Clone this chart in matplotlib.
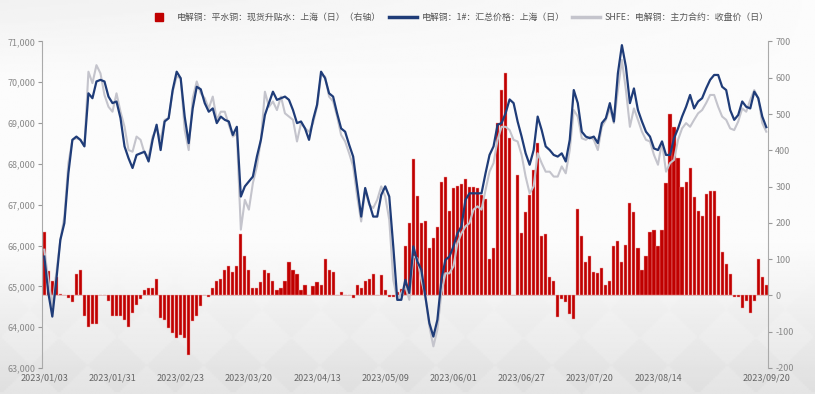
import numpy as np
import matplotlib
matplotlib.use('Agg')
import matplotlib.pyplot as plt
from matplotlib.lines import Line2D
from matplotlib.ticker import FuncFormatter

plt.rcParams['font.family'] = ['Noto Sans CJK SC', 'DejaVu Sans']
plt.rcParams['axes.unicode_minus'] = False

tick_labels = ['2023/01/03', '2023/01/31', '2023/02/23', '2023/03/20', '2023/04/13',
               '2023/05/09', '2023/06/01', '2023/06/27', '2023/07/20', '2023/08/14',
               '2023/09/20']
tick_pos = [0, 17, 34, 51, 68, 85, 102, 119, 136, 153, 180]

series_names = ['电解铜：平水铜：现货升贴水：上海（日）（右轴）',
                '电解铜：1#：汇总价格：上海（日）',
                'SHFE：电解铜：主力合约：收盘价（日）']

# spot premium/discount, right axis
spread = [
    176, 66, 40, 50, 5, 0, -7, -19, 60, 71,
    -58, -87, -78, -78, 0, 0, -14, -58, -58, -58,
    -67, -87, -49, -26, -10, 14, 20, 20, 46, -62,
    -67, -90, -104, -117, -108, -117, -163, -70, -58, -28,
    0, -3, 20, 41, 45, 71, 80, 64, 80, 170,
    109, 71, 20, 20, 36, 69, 61, 39, 16, 20,
    41, 91, 71, 60, 16, 29, 0, 25, 36, 29,
    100, 71, 64, 0, 9, 0, 0, -7, 29, 20,
    41, 45, 60, 0, 56, 14, -5, -3, 10, 18,
    135, 201, 375, 274, 201, 204, 130, 158, 190, 314,
    326, 234, 295, 303, 306, 320, 300, 300, 295, 277,
    265, 100, 130, 474, 566, 614, 435, 0, 332, 171,
    231, 277, 346, 419, 164, 170, 50, 41, -60, -10,
    -19, -50, -64, 238, 164, 91, 109, 64, 61, 75,
    29, 39, 135, 149, 91, 139, 256, 231, 130, 71,
    109, 174, 179, 135, 179, 311, 500, 463, 380, 300,
    314, 350, 271, 234, 219, 280, 289, 289, 219, 121,
    87, 60, -3, -3, -35, -14, -49, -14, 101, 50,
    29]

# 1# spot price Shanghai
spot = [
    65730, 64840, 64260, 65160, 66140, 66550, 67770, 68590, 68670, 68590,
    68430, 69730, 69610, 70020, 70060, 70020, 69650, 69490, 69530, 69120,
    68430, 68140, 67900, 68220, 68260, 68300, 68060, 68590, 68960, 68340,
    69040, 69120, 69810, 70260, 70100, 69160, 68510, 69360, 69890, 69830,
    69490, 69280, 69360, 69000, 69160, 69080, 69040, 68710, 68910, 67200,
    67450, 67570, 67690, 68180, 68590, 69200, 69490, 69770, 69570, 69610,
    69650, 69570, 69320, 69000, 69040, 68870, 68590, 69080, 69450, 70260,
    70100, 69730, 69650, 69240, 68870, 68790, 68470, 68180, 67450, 66710,
    67410, 67040, 66710, 66710, 67240, 67450, 67200, 65980, 64670, 64670,
    65160, 64840, 65980, 65610, 65410, 64750, 64100, 63770, 64180, 65160,
    65650, 65730, 65980, 66300, 66470, 67120, 67280, 67280, 67280, 67280,
    67770, 68220, 68430, 68960, 69000, 69240, 69580, 69490, 69040, 68670,
    68260, 67980, 68340, 69160, 68830, 68430, 68340, 68220, 68180, 68260,
    68060, 68590, 69810, 69490, 68790, 68670, 68630, 68670, 68510, 69000,
    69120, 69490, 69040, 70220, 70910, 70380, 69490, 69850, 69320, 69040,
    68790, 68670, 68380, 68340, 68550, 68220, 68220, 68630, 68870, 69160,
    69400, 69690, 69360, 69530, 69610, 69850, 70060, 70180, 70180, 69890,
    69810, 69320, 69080, 69200, 69530, 69400, 69360, 69770, 69610, 69160,
    68900]

# SHFE main contract close
shfe = [
    65900, 65160, 64510, 65320, 66140, 66710, 68020, 68590, 68630, 68590,
    68440, 70260, 69980, 70420, 70220, 69690, 69400, 69280, 69730, 69280,
    68910, 68340, 68300, 68670, 68590, 68260, 68180, 68670, 68870, 68590,
    69080, 69120, 69770, 70140, 70100, 68830, 68340, 69610, 70020, 69730,
    69610, 69360, 69650, 69080, 69280, 69280, 68960, 68670, 68750, 66390,
    67120, 66880, 67530, 67940, 68590, 69770, 69400, 69530, 69320, 69650,
    69240, 69160, 69080, 68550, 69000, 68870, 68790, 69000, 69400, 70180,
    70140, 69650, 69530, 69160, 68710, 68550, 68260, 67940, 67200, 66590,
    67360, 67000, 66920, 67120, 67450, 67200, 66630, 65160, 64670, 64840,
    65000, 64670, 65730, 65690, 65160, 64750, 64020, 63530, 63940, 64840,
    65320, 65320, 65490, 66060, 66300, 66470, 66550, 66880, 66960, 66880,
    67360, 67810, 68020, 68590, 68910, 68910, 68830, 68590, 68550, 68220,
    67690, 67280, 67450, 68260, 68020, 67810, 67810, 67690, 67690, 67940,
    67770, 68340, 69320, 69160, 68630, 68590, 68670, 68590, 68340, 68910,
    69080, 69360, 69000, 69810, 70550, 69810, 68910, 69360, 69080, 68790,
    68590, 68550, 68220, 67980, 68550, 67810, 68020, 68100, 68590, 68870,
    69000, 68910, 69080, 69240, 69320, 69490, 69690, 69690, 69400, 69160,
    69080, 68870, 68830, 69040, 69360, 69280, 69570, 69810, 69610, 69000,
    68790]

x = np.arange(len(spot))

fig = plt.figure(figsize=(8.15, 3.94), dpi=100)

# light grey background, darker toward the bottom
bg = fig.add_axes([0, 0, 1, 1], zorder=-10)
yy, xx = np.mgrid[0:1:200j, 0:1:400j]
shade = 0.985 - 0.09 * np.clip((yy - 0.62) / 0.38, 0, 1) \
    - 0.04 * np.clip((0.2 - yy) / 0.2, 0, 1) * (1 - xx)
tiles = ((np.floor(xx * 14 + yy * 7) + np.floor(xx * 14 - yy * 7)) % 2)
shade = shade - 0.02 * tiles * np.clip((yy - 0.65) / 0.35, 0, 1)
bg.imshow(shade, cmap='gray', vmin=0, vmax=1, extent=[0, 1, 0, 1], aspect='auto')
bg.axis('off')

ax = fig.add_axes([0.0519, 0.066, 0.8908, 0.8287])
ax2 = ax.twinx()
ax.set_zorder(2)
ax2.set_zorder(1)
ax.patch.set_visible(False)
ax2.patch.set_visible(False)

red = '#C00000'
blue = '#1F3C78'
grey = '#C4C4CC'

ax2.axhline(0, color='#d8b8b8', lw=0.6, zorder=0)
ax2.bar(x, spread, width=0.78, color=red, edgecolor='#F0A0A0', linewidth=0.3)
ax.plot(x, shfe, color=grey, lw=1.5)
ax.plot(x, spot, color=blue, lw=1.6)

ax.set_xlim(-0.5, 180.5)
ax.set_ylim(63000, 71000)
ax.set_yticks(np.arange(63000, 71001, 1000))
ax.yaxis.set_major_formatter(FuncFormatter(lambda v, p: f'{v:,.0f}'))
ax2.set_ylim(-200, 700)
ax2.set_yticks(np.arange(-200, 701, 100))

ax.set_xticks(tick_pos)
ax.set_xticklabels(tick_labels)
ax.tick_params(axis='x', length=0, labelsize=6.5, labelcolor='#666666', pad=4)
ax.tick_params(axis='y', length=3, width=0.8, color='#999999',
               labelsize=6.5, labelcolor='#888888', pad=2)
ax2.tick_params(axis='y', length=3, width=0.8, color='#999999',
                labelsize=6.5, labelcolor='#888888', pad=2)

for a in (ax, ax2):
    for s in ('top', 'bottom'):
        a.spines[s].set_visible(False)
ax.spines['right'].set_visible(False)
ax2.spines['left'].set_visible(False)
ax.spines['left'].set_color('#aaaaaa')
ax2.spines['right'].set_color('#aaaaaa')

handles = [Line2D([0], [0], marker='s', color=red, linestyle='none', markersize=5.5),
           Line2D([0], [0], color=blue, lw=2.5),
           Line2D([0], [0], color=grey, lw=2.5)]
fig.legend(handles, series_names, loc='center', bbox_to_anchor=(0.56, 0.955),
           ncol=3, frameon=False, fontsize=6.4, handlelength=3.2,
           columnspacing=0.8, handletextpad=0.5, labelcolor='#555555')

fig.savefig('out.png', dpi=100)
